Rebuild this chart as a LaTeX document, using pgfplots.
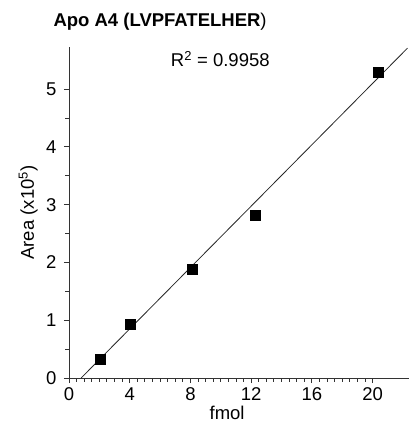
\documentclass[border=0pt]{standalone}
\usepackage{fontspec}
\setmainfont{Liberation Sans}
\usepackage{pgfplots}
\pgfplotsset{compat=1.18}
\begin{document}
\begin{tikzpicture}
\useasboundingbox (-69pt,-47pt) rectangle (341pt,378pt);
\begin{axis}[
  scale only axis,
  width=340pt, height=331pt,
  xmin=0, xmax=22.4, ymin=0, ymax=5.73,
  axis lines*=left,
  axis line style={draw=black!80, line width=0.9pt},
  xtick={0,4,8,12,16,20},
  ytick={0,1,2,3,4,5},
  minor x tick num=7,
  minor y tick num=1,
  tick align=outside,
  major tick length=5pt,
  minor tick length=3.5pt,
  tick style={draw=black!80, line width=0.9pt},
  /pgf/number format/assume math mode=true,
  ticklabel style={font=\fontsize{18.5}{22}\selectfont},
  xticklabel style={yshift=-1pt},
  yticklabel style={xshift=-4pt},
  label style={font=\fontsize{18.5}{22}\selectfont},
  xlabel={fmol},
  xlabel style={at={(axis description cs:0.465,0)}, anchor=base, yshift=-41pt},
  ylabel={Area (x10\textsuperscript{5})},
  ylabel style={at={(axis description cs:-0.12,0.5)}, anchor=center},
  clip=false,
]
\addplot[black!85, line width=0.8pt] coordinates {(0.8,0) (22.3,5.71)};
\addplot[only marks, mark=square*, mark size=5pt, mark options={fill=black, draw=black}] coordinates {
  (2.05,0.325) (4.03,0.93) (8.1,1.88) (12.27,2.81) (20.35,5.29)
};
\node[anchor=base west, font=\fontsize{18.5}{22}\selectfont, xshift=-3pt] at (axis cs:6.68,5.385) {R\textsuperscript{2} = 0.9958};
\node[anchor=base west, font=\fontsize{18.5}{22}\selectfont, xshift=-19pt, yshift=20pt] at (rel axis cs:0,1) {\textbf{Apo A4 (LVPFATELHER})};
\end{axis}
\end{tikzpicture}
\end{document}
